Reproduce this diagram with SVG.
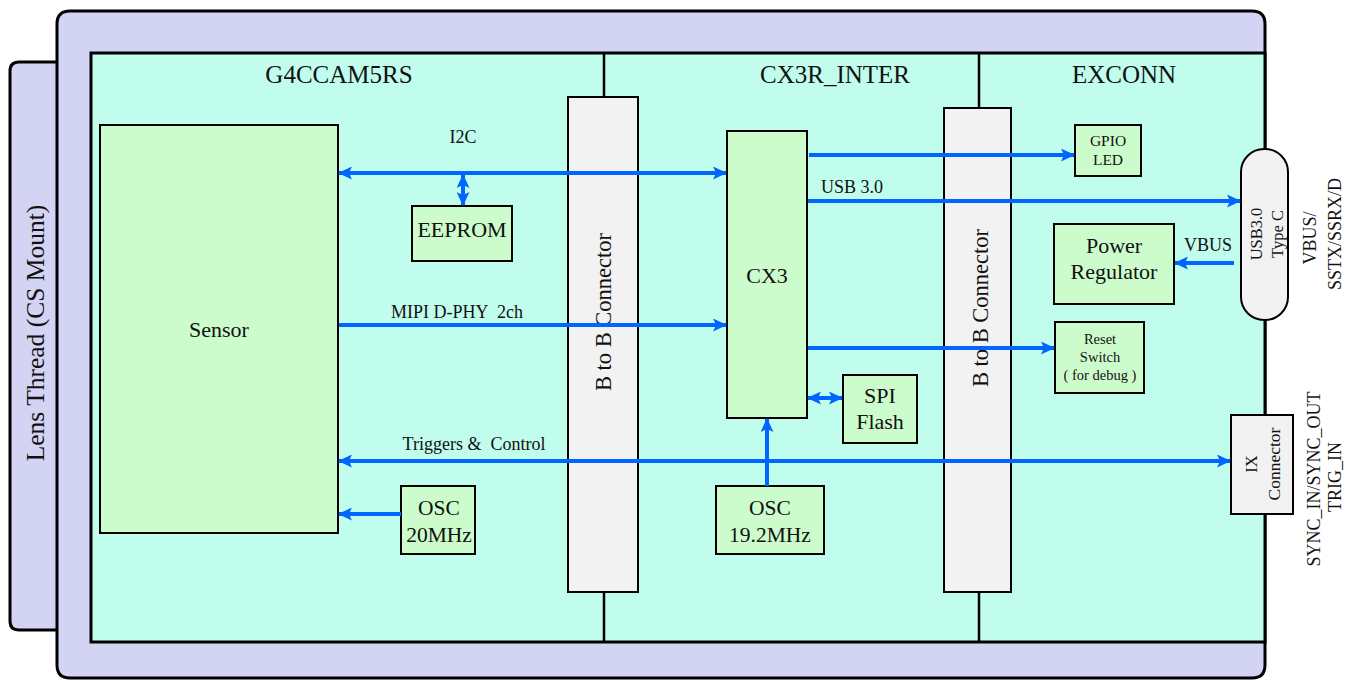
<svg xmlns="http://www.w3.org/2000/svg" width="1353" height="680" viewBox="0 0 1353 680">
<style>
text{font-family:"Liberation Serif","Times New Roman",serif;fill:#111;}
.frame{fill:#d3d3f4;stroke:#000;stroke-width:3;}
.board{fill:#c0fdec;stroke:#000;stroke-width:3;}
.blk{fill:#ccfccc;stroke:#000;stroke-width:2;}
.gry{fill:#f2f2f2;stroke:#000;stroke-width:2;}
.div{stroke:#000;stroke-width:2.5;fill:none;}
.c{text-anchor:middle;}
.big{font-size:25px;}
.mid{font-size:22px;}
.osc{font-size:21.5px;}
.b2b{font-size:22.5px;}
.lab{font-size:18px;}
.typ{font-size:16.5px;}
.sm{font-size:15.5px;}
.xs{font-size:14.5px;}
.ar{stroke:#0066ff;stroke-width:4;fill:none;}
</style>
<defs>
<marker id="ah" markerUnits="userSpaceOnUse" markerWidth="14" markerHeight="13" refX="13" refY="6.5" orient="auto-start-reverse">
<path d="M0,0 L14,6.5 L0,13 L3,6.5 Z" fill="#0066ff"/>
</marker>
</defs>
<g id="lens-thread">
<path class="frame" d="M57,62 L19,62 Q10,62 10,71 L10,621 Q10,630 19,630 L57,630"/>
<text class="c" style="font-size:25.5px" transform="translate(44,333) rotate(-90)">Lens Thread (CS Mount)</text>
</g>
<g id="enclosure">
<path class="frame" d="M70,11 L1252,11 Q1265,11 1265,24 L1265,665 Q1265,678 1252,678 L70,678 Q57,678 57,665 L57,24 Q57,11 70,11 Z"/>
<rect class="board" x="91" y="53" width="1174" height="589"/>
<line class="div" x1="604" y1="53" x2="604" y2="97"/>
<line class="div" x1="604" y1="592" x2="604" y2="642"/>
<line class="div" x1="979" y1="53" x2="979" y2="108"/>
<line class="div" x1="979" y1="592" x2="979" y2="642"/>
<text class="big c" x="339" y="83">G4CCAM5RS</text>
<text class="big c" x="835" y="83">CX3R_INTER</text>
<text class="big c" x="1124" y="83">EXCONN</text>
</g>
<g id="b2b-1">
<rect class="gry" x="568" y="97" width="70" height="495"/>
<text class="b2b c" transform="translate(611,312) rotate(-90)">B to B Connector</text>
</g>
<g id="b2b-2">
<rect class="gry" x="944" y="108" width="67" height="484"/>
<text class="b2b c" transform="translate(988,308) rotate(-90)">B to B Connector</text>
</g>
<g id="sensor">
<rect class="blk" x="100" y="125" width="238" height="408"/>
<text class="mid c" x="219" y="337">Sensor</text>
</g>
<g id="eeprom">
<rect class="blk" x="412" y="206" width="100" height="55"/>
<text class="mid c" x="462" y="237">EEPROM</text>
</g>
<g id="osc20">
<rect class="blk" x="401" y="486" width="74" height="68"/>
<text class="osc c" x="439" y="515">OSC</text>
<text class="osc c" x="439" y="542">20MHz</text>
</g>
<g id="cx3">
<rect class="blk" x="727" y="131" width="80" height="287"/>
<text class="mid c" x="767" y="283">CX3</text>
</g>
<g id="spi-flash">
<rect class="blk" x="843" y="375" width="74" height="68"/>
<text class="mid c" x="880" y="403">SPI</text>
<text class="mid c" x="880" y="429">Flash</text>
</g>
<g id="osc192">
<rect class="blk" x="716" y="486" width="108" height="68"/>
<text class="osc c" x="770" y="515">OSC</text>
<text class="osc c" x="770" y="542">19.2MHz</text>
</g>
<g id="gpio-led">
<rect class="blk" x="1075" y="125" width="66" height="51"/>
<text class="sm c" x="1108" y="146">GPIO</text>
<text class="sm c" x="1108" y="165">LED</text>
</g>
<g id="power-regulator">
<rect class="blk" x="1054" y="224" width="120" height="80"/>
<text class="mid c" x="1114" y="253">Power</text>
<text class="mid c" x="1114" y="279">Regulator</text>
</g>
<g id="reset-switch">
<rect class="blk" x="1055" y="322" width="89" height="71"/>
<text class="xs c" x="1100" y="344">Reset</text>
<text class="xs c" x="1100" y="362">Switch</text>
<text class="xs c" x="1100" y="380" xml:space="preserve">( for debug )</text>
</g>
<g id="usb-typec">
<rect class="gry" x="1241" y="149" width="47" height="171" rx="23" ry="23"/>
<text class="typ c" transform="translate(1262,234) rotate(-90)">USB3.0</text>
<text class="typ c" transform="translate(1283,234) rotate(-90)">Type C</text>
</g>
<g id="ix-connector">
<rect class="gry" x="1231" y="415" width="62" height="99"/>
<text class="typ c" transform="translate(1257,464) rotate(-90)">IX</text>
<text class="typ c" style="font-size:17.5px" transform="translate(1280,464) rotate(-90)">Connector</text>
</g>
<g id="external-labels">
<text class="lab c" transform="translate(1316,238) rotate(-90)">VBUS/</text>
<text class="lab c" transform="translate(1341,234) rotate(-90)">SSTX/SSRX/D</text>
<text class="lab c" transform="translate(1320,479) rotate(-90)">SYNC_IN/SYNC_OUT</text>
<text class="lab c" transform="translate(1341,477) rotate(-90)">TRIG_IN</text>
</g>
<g id="connectors">
<line class="ar" x1="339" y1="173" x2="726" y2="173" marker-start="url(#ah)" marker-end="url(#ah)"/>
<text class="lab c" x="463" y="143">I2C</text>
<line class="ar" x1="463" y1="175" x2="463" y2="205" marker-start="url(#ah)" marker-end="url(#ah)"/>
<line class="ar" x1="339" y1="325" x2="726" y2="325" marker-end="url(#ah)"/>
<text class="lab c" x="457" y="318" xml:space="preserve">MIPI D-PHY  2ch</text>
<line class="ar" x1="339" y1="461" x2="1230" y2="461" marker-start="url(#ah)" marker-end="url(#ah)"/>
<text class="lab c" x="474" y="450" xml:space="preserve">Triggers &amp;  Control</text>
<line class="ar" x1="401" y1="514" x2="339" y2="514" marker-end="url(#ah)"/>
<line class="ar" x1="767" y1="486" x2="767" y2="419" marker-end="url(#ah)"/>
<line class="ar" x1="808" y1="398" x2="842" y2="398" marker-start="url(#ah)" marker-end="url(#ah)"/>
<line class="ar" x1="809" y1="155" x2="1074" y2="155" marker-end="url(#ah)"/>
<line class="ar" x1="808" y1="201" x2="1240" y2="201" marker-end="url(#ah)"/>
<text class="lab" x="821" y="193">USB 3.0</text>
<line class="ar" x1="808" y1="348" x2="1054" y2="348" marker-end="url(#ah)"/>
<line class="ar" x1="1234" y1="263" x2="1175" y2="263" marker-end="url(#ah)"/>
<text class="lab c" x="1208" y="251">VBUS</text>
</g>
</svg>
